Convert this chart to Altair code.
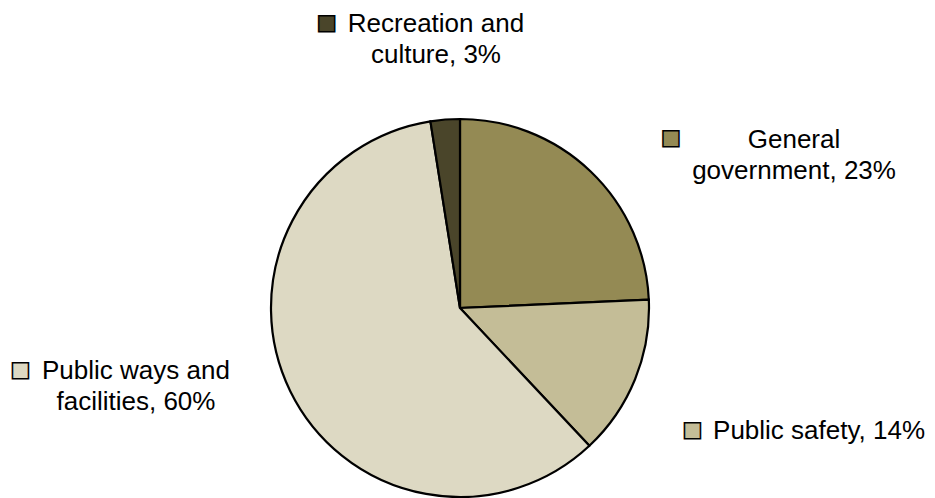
import altair as alt
import pandas as pd

categories = ["General government", "Public safety", "Public ways and facilities", "Recreation and culture"]
shares = [24.3, 13.7, 59.5, 2.5]
labels = ["General\ngovernment, 23%", "Public safety, 14%", "Public ways and\nfacilities, 60%", "Recreation and\nculture, 3%"]
colors = ["#948A54", "#C4BD97", "#DDD9C3", "#4A452A"]

df = pd.DataFrame({
    "category": categories,
    "share": shares,
    "label": labels,
    "order": list(range(len(categories))),
})

CX, CY = 452, 300
PIE_R = 189
LABEL_R = 230

# offsets of text and legend keys from their anchor on the label ring
layout = {
    "General government": dict(align="center", dx=175, dy=6, kdx=52, kdy=-4),
    "Public safety": dict(align="left", dx=40, dy=44, kdx=19.5, kdy=35),
    "Public ways and facilities": dict(align="center", dx=-117.5, dy=-30, kdx=-233, kdy=-39),
    "Recreation and culture": dict(align="center", dx=-6, dy=-47, kdx=-115.4, kdy=-56),
}

color = alt.Color("category:N", scale=alt.Scale(domain=categories, range=colors), legend=None)

base = alt.Chart(df).encode(
    theta=alt.Theta("share:Q", stack=True),
    order=alt.Order("order:Q", sort="ascending"),
    x=alt.value(CX),
    y=alt.value(CY),
)

pie = base.mark_arc(outerRadius=PIE_R, stroke="black", strokeWidth=2.2).encode(color=color)

layers = [pie]
for cat in categories:
    L = layout[cat]
    txt = base.transform_calculate(
        txt=f"datum.category == '{cat}' ? datum.label : ''"
    ).mark_text(
        radius=LABEL_R, dx=L["dx"], dy=L["dy"], align=L["align"], baseline="alphabetic",
        font="Liberation Sans", fontSize=26, lineHeight=31, lineBreak="\n", color="black",
    ).encode(text="txt:N")
    key = base.transform_calculate(
        key=f"datum.category == '{cat}' ? '\u25a0' : ''"
    ).mark_text(
        radius=LABEL_R, dx=L["kdx"], dy=L["kdy"], align="center", baseline="middle",
        font="DejaVu Sans", fontSize=21, stroke="black", strokeWidth=1.5,
    ).encode(text="key:N", color=color)
    layers += [txt, key]

chart = alt.layer(*layers).properties(
    width=919, height=490, autosize="none", padding=0, background="white"
).configure_view(stroke=None)

chart.save("out.html", embed_options={"renderer": "svg", "actions": False})
